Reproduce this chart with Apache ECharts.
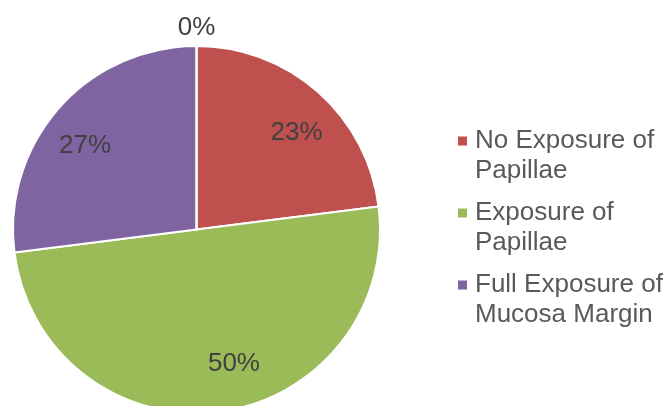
<!DOCTYPE html>
<html>
<head>
<meta charset="utf-8">
<script src="https://cdn.jsdelivr.net/npm/echarts@6/dist/echarts.min.js"></script>
<style>
  html, body { margin: 0; padding: 0; background: #fff; }
  #chart { width: 670px; height: 406px; }
</style>
</head>
<body>
<div id="chart"></div>
<script>
// Share of cases by degree of exposure (percent)
const categories = ['No Exposure of\nPapillae', 'Exposure of\nPapillae', 'Full Exposure of\nMucosa Margin', ''];
const values = [23, 50, 27, 0];
const colors = ['#C0504D', '#9BBB59', '#8064A2', '#4BACC6'];
const legendNames = categories.slice(0, 3);

const FONT = "'Liberation Sans', Arial, sans-serif";
const CX = 196.5, CY = 229.5, R = 183.5;
// best-fit style nudges for the value labels: radial scale and turn (degrees, counter-clockwise)
const LABEL_SCALE = [1.47, 1.47, 1.47, 2.13];
const LABEL_TURN = [-4.5, 8.4, 4.5, 0];

const chart = echarts.init(document.getElementById('chart'), null, { renderer: 'canvas' });

// rich styles: one coloured square per legend entry, plus spacers
const rich = {
  t: { fontSize: 26, lineHeight: 30, color: '#595959', fontFamily: FONT },
  sp: { width: 8, height: 9 },
  ind: { width: 17, height: 9 }
};
colors.forEach((c, i) => { rich['s' + i] = { width: 9, height: 9, backgroundColor: c }; });

chart.setOption({
  animation: false,
  backgroundColor: '#ffffff',
  legend: {
    orient: 'vertical',
    left: 447,
    top: 123,
    itemGap: 16,
    itemWidth: 0,
    itemHeight: 0,
    data: legendNames,
    formatter: function (name) {
      const i = categories.indexOf(name);
      const lines = name.split('\n');
      return lines.map((ln, k) => (k === 0 ? '{s' + i + '|}{sp|}' : '{ind|}') + '{t|' + ln + '}').join('\n');
    },
    textStyle: { rich: rich }
  },
  series: [{
    type: 'pie',
    center: [CX, CY],
    radius: [0, R],
    startAngle: 90,
    clockwise: true,
    avoidLabelOverlap: false,
    stillShowZeroSum: true,
    data: categories.map((n, i) => ({ name: n, value: values[i], itemStyle: { color: colors[i] } })),
    itemStyle: { borderColor: '#ffffff', borderWidth: 2 },
    label: {
      show: true,
      position: 'inside',
      formatter: '{d}%',
      fontSize: 26,
      fontFamily: FONT,
      color: '#404040'
    },
    labelLine: { show: false },
    // move the value labels outward along their radius, with a small turn
    labelLayout: function (p) {
      const r = p.labelRect;
      const dx = (r.x + r.width / 2 - CX) * LABEL_SCALE[p.dataIndex];
      const dy = (r.y + r.height / 2 - CY) * LABEL_SCALE[p.dataIndex];
      const a = LABEL_TURN[p.dataIndex] * Math.PI / 180;
      // screen y points down, so a counter-clockwise turn uses -a
      const rx = dx * Math.cos(a) + dy * Math.sin(a);
      const ry = -dx * Math.sin(a) + dy * Math.cos(a);
      return { x: CX + rx, y: CY + ry };
    }
  }]
});
</script>
</body>
</html>
